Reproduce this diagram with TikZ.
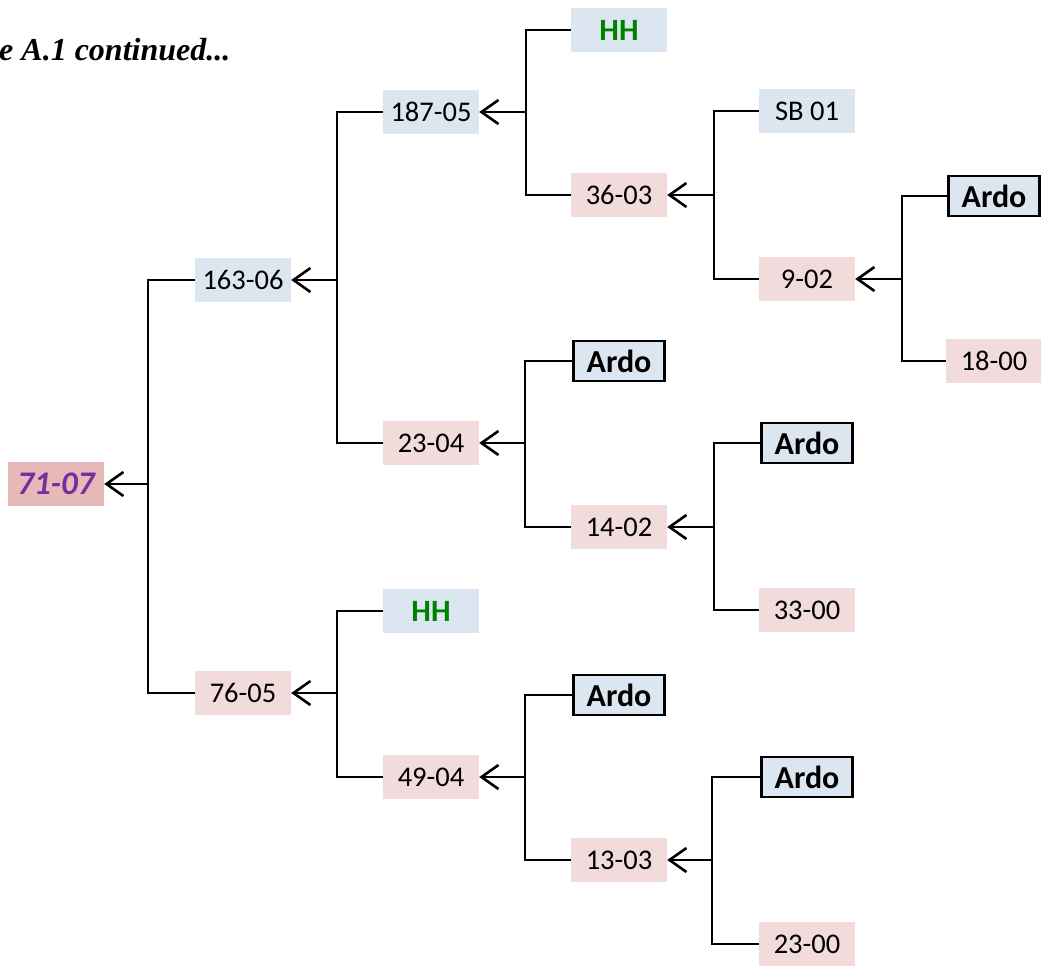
\documentclass[tikz,border=0pt]{standalone}
\usepackage{fontspec}
\setmainfont{Carlito}
\newfontfamily\titlefont{Liberation Serif}
\usetikzlibrary{arrows.meta}
\definecolor{nodeblue}{HTML}{DCE6F1}
\definecolor{nodepink}{HTML}{F2DCDB}
\definecolor{rootpink}{HTML}{E6B9B8}
\definecolor{hhgreen}{HTML}{008000}
\definecolor{rootpurple}{HTML}{7030A0}
\tikzset{
  box/.style={minimum width=96pt, minimum height=44pt, inner sep=0pt,
    font=\fontsize{28.5}{31}\selectfont},
  bluebox/.style={box, fill=nodeblue},
  pinkbox/.style={box, fill=nodepink},
  hhbox/.style={box, fill=nodeblue, text=hhgreen, font=\fontsize{31}{33}\selectfont\bfseries},
  ardobox/.style={box, fill=nodeblue, draw=black, line width=2.6pt,
    minimum width=91pt, minimum height=40pt, font=\fontsize{32}{34}\selectfont\bfseries},
  rootbox/.style={box, fill=rootpink, text=rootpurple,
    font=\fontsize{33}{35}\selectfont\bfseries\itshape},
  conn/.style={line width=1.6pt},
  arr/.style={line width=2.6pt, -{Straight Barb[length=17pt,width=24pt,line width=2.6pt]}},
}
\begin{document}
\begin{tikzpicture}[x=1pt,y=-1pt]
\useasboundingbox (0,0) rectangle (1041,967);

% caption
\node[anchor=base west, inner sep=0pt, font=\titlefont\fontsize{32}{34}\selectfont\bfseries\itshape]
  (caption) at (-1,60) {e A.1 continued...};

% nodes
\node[rootbox] (r) at (56,484) {71-07};
\node[bluebox] (a) at (243,280) {163-06};
\node[pinkbox] (b) at (243,693) {76-05};
\node[bluebox] (aa) at (431,112) {187-05};
\node[pinkbox] (ab) at (431,443) {23-04};
\node[hhbox] (ba) at (431,611) {HH};
\node[pinkbox] (bb) at (431,777) {49-04};
\node[hhbox] (aaa) at (619,30) {HH};
\node[pinkbox] (aab) at (619,195) {36-03};
\node[ardobox] (aba) at (619,361) {Ardo};
\node[pinkbox] (abb) at (619,527) {14-02};
\node[ardobox] (bba) at (619,695) {Ardo};
\node[pinkbox] (bbb) at (619,860) {13-03};
\node[bluebox] (aaba) at (807,111) {SB 01};
\node[pinkbox] (aabb) at (807,279) {9-02};
\node[ardobox] (abba) at (807,443) {Ardo};
\node[pinkbox] (abbb) at (807,610) {33-00};
\node[ardobox] (bbba) at (807,777) {Ardo};
\node[pinkbox] (bbbb) at (807,944) {23-00};
\node[ardobox] (aabba) at (994,196) {Ardo};
\node[pinkbox] (aabbb) at (994,361) {18-00};

% junctions of the brackets
\coordinate (jr) at (148,484);
\coordinate (ja) at (337,280);
\coordinate (jb) at (337,693);
\coordinate (jaa) at (526,112);
\coordinate (jab) at (525,443);
\coordinate (jbb) at (525,777);
\coordinate (jaab) at (714,195);
\coordinate (jabb) at (714,527);
\coordinate (jbbb) at (712,860);
\coordinate (jaabb) at (902,279);

% brackets and arrows
\foreach \p/\c/\d in {r/a/b, a/aa/ab, b/ba/bb, aa/aaa/aab, ab/aba/abb,
                      bb/bba/bbb, aab/aaba/aabb, abb/abba/abbb,
                      bbb/bbba/bbbb, aabb/aabba/aabbb} {
  \draw[conn] (\c.west) -| (j\p) |- (\d.west);
  \draw[arr] (j\p) -- (\p.east);
}
\end{tikzpicture}
\end{document}
